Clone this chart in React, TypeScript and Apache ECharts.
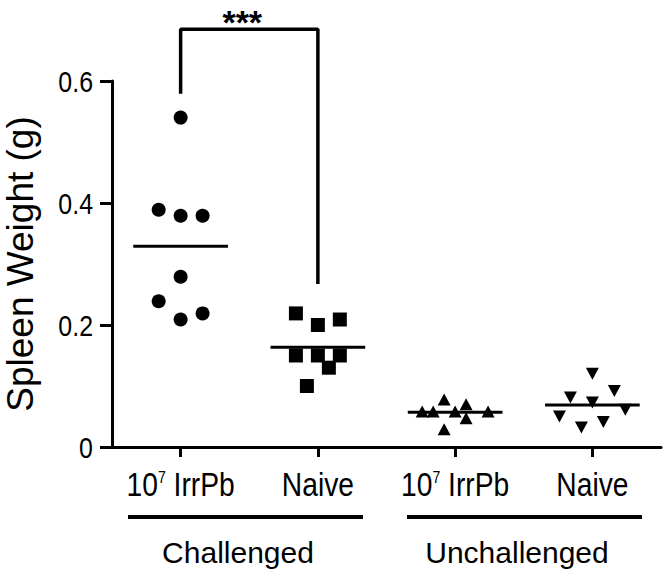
import React, { useEffect, useRef } from "react";
import * as echarts from "echarts";

const categories = ["10⁷ IrrPb", "Naive", "10⁷ IrrPb", "Naive"];
const groupNames = ["Challenged", "Unchallenged"];
const yAxisName = "Spleen Weight (g)";
const yTicks = [0, 0.2, 0.4, 0.6];
const yTickLabels = ["0", "0.2", "0.4", "0.6"];
const yMin = 0;
const yMax = 0.6;
const yStep = 0.2;

// Spleen weights (g) per group
const challengedIrrPb = [0.54, 0.389, 0.379, 0.379, 0.279, 0.239, 0.209, 0.219];
const challengedNaive = [0.219, 0.2, 0.209, 0.15, 0.15, 0.15, 0.13, 0.1];
const unchallengedIrrPb = [0.058, 0.058, 0.078, 0.058, 0.07, 0.047, 0.029, 0.058];
const unchallengedNaive = [0.12, 0.081, 0.092, 0.073, 0.05, 0.061, 0.041, 0.032];

// horizontal scatter offsets (in category widths)
const jitterChallengedIrrPb = [0, -0.16, 0, 0.16, 0, -0.16, 0, 0.16];
const jitterChallengedNaive = [-0.16, 0, 0.16, -0.16, 0, 0.16, 0.08, -0.08];
const jitterUnchallengedIrrPb = [-0.24, -0.16, -0.08, 0, 0.08, 0.08, -0.08, 0.24];
const jitterUnchallengedNaive = [0, -0.16, 0.16, 0, -0.24, 0.24, 0.08, -0.08];

// significance bracket between challenged groups
const significanceLabel = "***";
const bracketTop = 0.685;
const bracketLeftEnd = 0.582;
const bracketRightEnd = 0.27;

const REGULAR = "'Liberation Sans', Arial, Helvetica, sans-serif";
const NARROW_SCALE = 0.83;

const groups = [
  { values: challengedIrrPb, jitter: jitterChallengedIrrPb, symbol: "circle", size: 14, rotate: 0 },
  { values: challengedNaive, jitter: jitterChallengedNaive, symbol: "rect", size: 14, rotate: 0 },
  { values: unchallengedIrrPb, jitter: jitterUnchallengedIrrPb, symbol: "triangle", size: [13, 12], rotate: 0 },
  { values: unchallengedNaive, jitter: jitterUnchallengedNaive, symbol: "triangle", size: [13, 12], rotate: 180 },
];

const mean = (a: number[]) => a.reduce((s, v) => s + v, 0) / a.length;

export default function App() {
  const ref = useRef<HTMLDivElement>(null);
  useEffect(() => {
    document.body.style.margin = "0";
    if (!ref.current) return;
    const chart = echarts.init(ref.current, null, { renderer: "svg" });
    const series: any[] = [];
    groups.forEach((g, i) => {
      series.push({
        type: "scatter",
        xAxisIndex: 1,
        yAxisIndex: 0,
        symbol: g.symbol,
        symbolSize: g.size,
        symbolRotate: g.rotate,
        itemStyle: { color: "#000", opacity: 1 },
        data: g.values.map((v, k) => [i + g.jitter[k], v]),
        z: 3,
      });
      const m = mean(g.values);
      series.push({
        type: "line",
        xAxisIndex: 1,
        yAxisIndex: 0,
        symbol: "none",
        lineStyle: { color: "#000", width: 3 },
        data: [
          [i - 0.345, m],
          [i + 0.345, m],
        ],
        z: 4,
      });
    });
    series.push({
      type: "line",
      xAxisIndex: 1,
      yAxisIndex: 0,
      symbol: "none",
      clip: false,
      lineStyle: { color: "#000", width: 3.5, cap: "square" },
      data: [
        [0, bracketLeftEnd],
        [0, bracketTop],
        [1, bracketTop],
        [1, bracketRightEnd],
      ],
    });
    series.push({
      type: "scatter",
      xAxisIndex: 1,
      yAxisIndex: 0,
      clip: false,
      symbolSize: 0,
      itemStyle: { color: "#000", opacity: 1 },
      data: [[0.5, bracketTop]],
      label: {
        show: true,
        position: "inside",
        offset: [-7, -7],
        formatter: significanceLabel,
        color: "#000",
        opacity: 1,
        fontFamily: REGULAR,
        fontWeight: "bold",
        fontSize: 34,
      },
    });

    chart.setOption({
      animation: false,
      backgroundColor: "#fff",
      grid: { left: 112, right: 11, top: 81, bottom: 135, containLabel: false, outerBoundsMode: "none" },
      xAxis: [
        {
          type: "category",
          data: categories,
          boundaryGap: true,
          axisLine: { show: true, lineStyle: { color: "#000", width: 3 } },
          axisTick: { show: true, alignWithLabel: true, length: 10, lineStyle: { color: "#000", width: 3 } },
          splitLine: { show: false },
          axisLabel: { show: false },
        },
        {
          type: "value",
          min: -0.5,
          max: 3.5,
          show: false,
        },
      ],
      yAxis: {
        type: "value",
        min: yMin,
        max: yMax,
        interval: yStep,
        name: yAxisName,
        nameLocation: "middle",
        nameGap: 73,
        nameTextStyle: { fontFamily: REGULAR, fontSize: 37, color: "#000" },
        axisLine: { show: true, onZero: false, lineStyle: { color: "#000", width: 3 } },
        axisTick: { show: true, length: 12, lineStyle: { color: "#000", width: 3 } },
        splitLine: { show: false },
        axisLabel: { show: false },
      },
      series,
    });

    // axis texts in a condensed face, placed through the chart's own scales
    const graphics: any[] = [];
    categories.forEach((c, i) => {
      const px = chart.convertToPixel({ xAxisIndex: 1 }, i) as number;
      const parts = c.split("⁷");
      const text = parts.length === 2 ? `{n|${parts[0]}}{sup|7}{n|${parts[1]}}` : `{n|${c}}`;
      graphics.push({
        type: "text",
        x: px,
        y: 485,
        scaleX: NARROW_SCALE,
        style: {
          text,
          align: "center",
          verticalAlign: "middle",
          fill: "#000",
          rich: {
            n: { fontFamily: REGULAR, fontSize: 34, fill: "#000", color: "#000", lineHeight: 34 },
            sup: { fontFamily: REGULAR, fontSize: 17, fill: "#000", color: "#000", lineHeight: 21.5, verticalAlign: "top" },
          },
        },
      });
    });
    yTicks.forEach((v, k) => {
      const py = chart.convertToPixel({ yAxisIndex: 0 }, v) as number;
      graphics.push({
        type: "text",
        x: 93,
        y: py + 1,
        scaleX: 0.86,
        style: {
          text: yTickLabels[k],
          align: "right",
          verticalAlign: "middle",
          fontFamily: REGULAR,
          fontSize: 29,
          fill: "#000",
        },
      });
    });
    graphics.push(
      { type: "line", shape: { x1: 128, y1: 517, x2: 363, y2: 517 }, style: { stroke: "#000", lineWidth: 4 } },
      { type: "line", shape: { x1: 407, y1: 517, x2: 642, y2: 517 }, style: { stroke: "#000", lineWidth: 4 } },
      {
        type: "text",
        x: 238,
        y: 552,
        style: { text: groupNames[0], fontFamily: REGULAR, fontSize: 30, fill: "#000", align: "center", verticalAlign: "middle" },
      },
      {
        type: "text",
        x: 517,
        y: 552,
        style: { text: groupNames[1], fontFamily: REGULAR, fontSize: 30, fill: "#000", align: "center", verticalAlign: "middle" },
      }
    );
    chart.setOption({ graphic: graphics });
    return () => chart.dispose();
  }, []);
  return <div ref={ref} style={{ width: 672, height: 582 }} />;
}
